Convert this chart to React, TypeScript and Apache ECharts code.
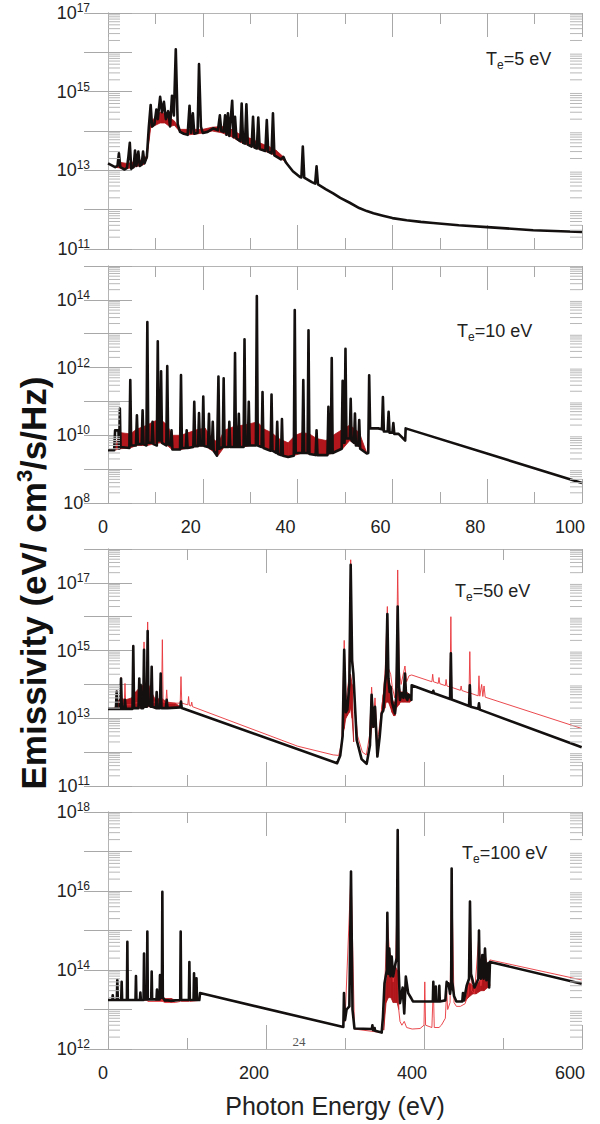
import React, { useEffect, useRef } from 'react';
import * as echarts from 'echarts';

// ---------------- tick labels ----------------
const X_LABELS_LOW = [0, 20, 40, 60, 80, 100];
const X_LABELS_HIGH = [0, 200, 400, 600];
const P1_Y_RANGE = [11, 17];
const P1_Y_LABELS = [11, 13, 15, 17];
const P2_Y_RANGE = [8, 15];
const P2_Y_LABELS = [8, 10, 12, 14];
const P3_Y_RANGE = [11, 18];
const P3_Y_LABELS = [11, 13, 15, 17];
const P4_Y_RANGE = [12, 18];
const P4_Y_LABELS = [12, 14, 16, 18];
const MINOR_MULTIPLIERS = [2, 3, 4, 5, 6, 7, 8, 9];
const PANEL_TEMPS = ['5 eV', '10 eV', '50 eV', '100 eV'];

// ---------------- Te = 5 eV ----------------
const P1_BLACK: [number, number][] = [
  [0, 1.5e13], [1.5, 1.2e13], [2.0, 1.3e13], [2.3, 2.7e13], [2.6, 1.2e13], [3.5, 1.05e13], [4.0, 1.15e13],
  [4.3, 2.2e13], [4.6, 5e13], [4.9, 1.1e13], [5.4, 1.2e13], [5.7, 3.2e13], [6.0, 1.3e13], [6.4, 3e13],
  [6.7, 1.3e13], [7.1, 1.4e13], [7.4, 3e13], [7.7, 1.5e13], [8.2, 2.2e13], [8.6, 1.2e14], [9.0, 4.6e14],
  [9.3, 1.3e14], [9.8, 1.5e14], [10.2, 3.5e14], [10.5, 2e14], [11.0, 7.4e14], [11.4, 3e14], [11.8, 5.5e14],
  [12.2, 2e14], [12.7, 3.2e14], [13.1, 1.3e14], [13.5, 7.9e14], [13.9, 2.5e14], [14.3, 1.2e16], [14.7, 1.5e14],
  [15.2, 9.5e13], [16.0, 8.5e13], [16.8, 8e13], [17.2, 4.4e14], [17.5, 9e13], [17.9, 2.8e14], [18.2, 8.5e13],
  [18.9, 9e13], [19.2, 5e15], [19.6, 1.3e14], [20.0, 8.9e13], [21.0, 9.5e13], [22.2, 1.17e14], [23.2, 1.05e14],
  [23.6, 2.5e14], [23.9, 1e14], [24.4, 9.5e13], [24.7, 2.5e14], [25.0, 8e13], [25.3, 2.8e14], [25.6, 7.5e13],
  [26.2, 5.9e14], [26.5, 7e13], [26.8, 2.3e14], [27.1, 6.5e13], [27.9, 5.5e13], [28.2, 5e14], [28.5, 5e13],
  [28.9, 4.8e13], [29.2, 4.8e14], [29.5, 4.5e13], [30.3, 4e13], [30.6, 2.3e14], [30.9, 3.8e13], [31.4, 3.6e13],
  [31.7, 2.2e14], [32.0, 3.5e13], [33.2, 3.1e13], [33.5, 1.9e14], [33.8, 3e13], [34.5, 2.7e13], [34.8, 2.8e14],
  [35.1, 2.4e13], [36.5, 1.9e13], [37.0, 2.2e13], [37.5, 1.6e13], [39, 9.5e12], [40.5, 6.8e12], [40.8, 6.6e12],
  [41.1, 4e13], [41.4, 6.5e12], [43, 5e12], [43.7, 4.6e12], [44, 1.26e13], [44.3, 4.4e12], [46, 3.3e12],
  [47.5, 2.6e12], [49, 2e12], [51, 1.5e12], [53, 1.1e12], [54.6, 9.2e11], [56, 8.1e11], [58, 7e11], [60, 6.1e11],
  [63, 5.4e11], [66, 4.9e11], [68.6, 4.6e11], [74, 4e11], [80, 3.6e11], [89.7, 3e11], [100, 2.7e11],
];
const P1_BAND: [number, number, number][] = [
  [1.5, 1.2e13, 1.2e13], [2.5, 1.15e13, 1.6e13], [4, 1.1e13, 1.5e13], [6, 1.25e13, 1.7e13], [7.5, 1.4e13, 1.9e13],
  [8.2, 2e13, 2.4e13], [9, 1.2e14, 1.6e14], [10, 1.4e14, 2.3e14], [11, 1.6e14, 3e14], [12, 1.6e14, 2.8e14],
  [13, 1.3e14, 2.2e14], [14, 1.4e14, 1.8e14], [15.2, 9.5e13, 1.1e14], [17, 8e13, 1.1e14], [19, 8.5e13, 1.1e14],
  [20, 8.9e13, 1.1e14], [22, 1.0e14, 1.25e14], [24, 9e13, 1.3e14], [26, 7.2e13, 1.1e14], [28, 5.2e13, 8e13],
  [30, 4.2e13, 6.5e13], [32, 3.4e13, 5e13], [34, 2.8e13, 4e13], [35.5, 2.3e13, 3.2e13], [37, 1.8e13, 2.2e13],
  [38, 1.4e13, 1.4e13],
];

// ---------------- Te = 10 eV ----------------
const P2_BLACK: [number, number][] = [
  [0, 3.6e9], [1.3, 3.6e9], [1.5, 1.4e10], [2.2, 1.4e10], [2.35, 4e9], [2.5, 6.2e10], [2.65, 4.5e9],
  [4.5, 4.2e9], [4.7, 4.3e11], [4.9, 5e9], [5.9, 5e9], [6.1, 3.9e10], [6.3, 5.5e9],
  [7.1, 5.5e9], [7.3, 5.5e10], [7.5, 5.5e9], [8.1, 5e9], [8.3, 2.2e13], [8.5, 6e9],
  [9.2, 6e9], [9.4, 2.5e10], [9.6, 5.5e9], [10.3, 5e9], [10.5, 6e12], [10.7, 7e9],
  [11.0, 7e9], [11.2, 7.8e11], [11.4, 6e9], [12.3, 5e9], [12.5, 1.1e12], [12.7, 5.5e9],
  [13.2, 5e9], [13.4, 1.4e10], [13.6, 3.8e9], [15.2, 3.8e9], [15.4, 6e11], [15.6, 4.2e9],
  [16.4, 4.2e9], [16.6, 1.4e10], [16.8, 4.2e9], [18.0, 4.5e9], [18.2, 9.8e10], [18.4, 4.8e9],
  [19.0, 4.8e9], [19.2, 4.5e10], [19.4, 5e9], [19.9, 5e9], [20.1, 1.4e11], [20.3, 4.8e9],
  [21.1, 4.5e9], [21.3, 4.3e10], [21.5, 4.2e9], [21.9, 4e9], [22.1, 2.5e10], [22.3, 3.5e9],
  [23.0, 2.5e9], [23.3, 5.4e11], [23.5, 4e9], [24.2, 4.5e9], [24.4, 4.8e11], [24.6, 4.5e9],
  [25.4, 4.5e9], [25.6, 2.5e10], [25.8, 4.5e9], [26.6, 4.5e9], [26.8, 2.7e12], [27.0, 4.5e9],
  [27.4, 4.5e9], [27.6, 4.3e10], [27.8, 4.5e9], [28.6, 4.5e9], [28.8, 6.8e12], [29.0, 5e9],
  [29.5, 5e9], [29.7, 9.8e10], [29.9, 5e9], [31.2, 5e9], [31.4, 1.3e14], [31.6, 5e9],
  [32.4, 4.5e9], [32.6, 1.9e11], [32.8, 4.2e9], [34.3, 3.5e9], [34.5, 1.6e11], [34.7, 3.5e9],
  [35.5, 3e9], [35.7, 2.5e10], [35.9, 2.8e9], [36.5, 2.6e9], [36.7, 3e10], [36.9, 2.5e9],
  [38.0, 2.3e9], [39.2, 2.5e9], [39.4, 5e13], [39.6, 3e9], [41.0, 3e9], [41.2, 4.3e11], [41.4, 3e9],
  [42.1, 3e9], [42.3, 1.26e13], [42.5, 2.8e9], [43.8, 2.6e9], [44.0, 1.4e10], [44.2, 2.6e9],
  [46.3, 2.6e9], [46.5, 6.9e10], [46.7, 3e9], [47.0, 3e9], [47.2, 1.9e12], [47.4, 3e9],
  [49.3, 4e9], [49.5, 4.1e11], [49.7, 6e9], [49.9, 6e9], [50.1, 3.6e12], [50.3, 8e9],
  [51.0, 8e9], [51.2, 1.2e11], [51.4, 7e9], [51.9, 6e9], [52.1, 4.4e10], [52.3, 5e9],
  [52.8, 5e9], [53.0, 2.8e10], [53.2, 4e9], [54.6, 2.9e9], [54.9, 3e9], [55.1, 5.9e11], [55.3, 1.6e10],
  [57.0, 1.6e10], [57.8, 1.5e10], [58.0, 1.35e11], [58.2, 1.3e10], [59.0, 1.3e10], [59.2, 4.9e10],
  [59.4, 1.2e10], [60.0, 1.2e10], [60.2, 2.3e10], [60.4, 1.1e10], [61.3, 1.1e10], [62.7, 7e9],
  [62.8, 1.6e10], [100, 3.9e8],
];
const P2_BAND: [number, number, number][] = [
  [1.3, 3.6e9, 3.6e9], [2.5, 4e9, 1.2e10], [4.7, 4.2e9, 1.1e10], [6, 5e9, 1.5e10], [8.3, 5e9, 2e10],
  [9.5, 5.5e9, 2.5e10], [11, 6e9, 3e10], [12.5, 5e9, 2e10], [13.5, 3.8e9, 1e10], [15.4, 3.8e9, 1e10],
  [17, 4.2e9, 1.2e10], [19, 4.8e9, 1.5e10], [20.5, 4.8e9, 1.6e10], [22, 3.5e9, 8e9], [23.3, 2.6e9, 6e9],
  [24.5, 4.5e9, 1.4e10], [26.5, 4.5e9, 1.8e10], [28.5, 4.5e9, 2e10], [30, 5e9, 2.2e10], [31.5, 5e9, 2.5e10],
  [33, 4.2e9, 1.5e10], [34.5, 3.5e9, 1.2e10], [36, 2.8e9, 8e9], [38, 2.3e9, 6e9], [39.5, 2.6e9, 1e10],
  [41, 3e9, 1.2e10], [42.5, 2.8e9, 1.1e10], [44, 2.6e9, 8e9], [46, 2.6e9, 7e9], [47.5, 3e9, 1e10],
  [49.5, 4e9, 1.5e10], [51, 7e9, 2e10], [53, 4.5e9, 1.2e10], [54.6, 2.9e9, 3e9],
];

// ---------------- Te = 50 eV ----------------
const P3_BLACK: [number, number][] = [
  [0, 1.9e13], [10, 1.9e13], [11, 6.2e13], [12, 1.9e13], [15.5, 1.9e13], [16.5, 1.5e14], [17.5, 1.9e13],
  [20.5, 1.9e13], [21.5, 3.5e13], [22.5, 1.9e13], [31, 1.9e13], [32, 1.35e15], [33, 2e13],
  [38.6, 2e13], [39.6, 1.5e14], [40.4, 2.5e13], [41.3, 9.8e13], [42.2, 2e13], [44.6, 2e13], [45.6, 1.05e15],
  [46.6, 2.2e13], [49.2, 2.2e13], [50.2, 3.8e15], [51.2, 2.5e13], [54.3, 2.2e13], [55.3, 3.3e14], [56.3, 2.2e13],
  [60.6, 2e13], [61.6, 6e13], [62.6, 2e13], [65.7, 2e13], [66.7, 2.1e14], [67.7, 2e13], [73.3, 2e13],
  [74.3, 3.5e13], [75.3, 2e13], [91.4, 2.1e13], [92.4, 3.1e13], [93.4, 2e13],
  [290, 4.7e11], [294, 8e11], [297, 3e12], [299, 1.05e15], [301, 1.5e13], [303, 1.8e13], [305.5, 1e14],
  [307.2, 3.4e17], [309, 5e14], [310.6, 2.1e14], [314.8, 2.3e12], [321, 6.2e11], [327.4, 4.5e11],
  [331.6, 1.6e12], [333.7, 4.9e13], [336, 5.6e12], [338, 2.2e13], [341, 7.4e11], [344, 3e12], [346.4, 1.4e13],
  [348.5, 1.7e13], [350.5, 1e14], [352, 2e14], [353.6, 1.2e16], [355, 1.5e14], [356.5, 6e13], [357.8, 8.5e13],
  [359.5, 3e13], [361.5, 2e13], [363.3, 1.4e13], [365, 5e13], [366.7, 2e16], [368.2, 1e14], [369.6, 3.5e13],
  [371.7, 5.5e13], [374, 4e13], [375.9, 2.1e14], [377.5, 4e13], [378.9, 3.5e13], [380.5, 5e13], [382.3, 4.4e13],
  [384, 3.5e13], [384.4, 9.5e13], [411, 5.6e13], [411.8, 6.5e13], [412.6, 5.5e13], [433, 3.7e13], [434, 8.3e14],
  [435, 3.6e13], [457, 2.3e13], [458, 9.5e13], [459, 2.2e13], [468.6, 1.9e13], [469.6, 2.75e13], [470.6, 1.8e13],
  [599.6, 1.4e12],
];
const P3_RED: [number, number][] = [
  [0, 1.9e13], [10, 2e13], [11, 6.5e13], [12, 2.2e13], [15.5, 2.2e13], [16.5, 1.6e14], [17.5, 2.5e13],
  [20.5, 2.5e13], [21.5, 1.07e14], [22.5, 2.5e13], [31, 2.5e13], [32, 1.4e15], [33, 2.8e13], [44.6, 3e13],
  [45.6, 1.8e15], [46.6, 3e13], [49.2, 3e13], [50.2, 7e15], [51.2, 3e13], [54.3, 3e13], [55.3, 3.5e14],
  [56.3, 3e13], [67.8, 3e13], [68.8, 2.1e15], [69.8, 3e13], [73.3, 3e13], [74.3, 6.9e13], [75.3, 2.8e13],
  [91.4, 2.8e13], [92.4, 1.7e14], [93.4, 2.8e13], [101, 2.5e13], [102, 4.4e13], [103, 2.4e13], [105, 2.3e13],
  [106, 3e13], [107, 2.2e13], [240, 1.5e12], [285, 8.3e11], [292, 8e11], [296, 2e12], [299, 2e15], [301, 3e13],
  [305, 1.5e14], [307.2, 4.8e17], [309, 1e15], [312, 3e13], [316, 3e12], [322, 1e12], [327, 8.3e11], [331, 3e12],
  [333.7, 8.3e13], [336, 1e13], [338, 4e13], [341, 2e12], [345, 1e13], [348.5, 5e13], [351, 3e14], [353.6, 2e16],
  [355, 3e14], [357.8, 2e14], [360, 8e13], [363, 4e13], [365, 2e14], [366.7, 2.4e17], [368.5, 3e14], [371, 1e14],
  [375.9, 3.5e14], [378, 1.2e14], [381, 1.8e14], [384.4, 1.9e14], [410, 1.2e14], [411, 2e14], [412, 1.2e14],
  [418, 1.07e14], [419, 1.6e14], [420, 1.05e14], [427, 9.2e13], [428, 1.4e14], [429, 9e13], [433, 8.4e13],
  [434, 1e16], [435, 8.2e13], [446, 6.7e13], [447, 9e13], [448, 6.6e13], [457, 5.6e13], [458, 9.3e14],
  [459, 5.5e13], [468.6, 4.6e13], [469.6, 1.8e14], [470.6, 4.5e13], [473, 1e14], [474.5, 4.4e13], [476, 9e13],
  [477.5, 4.2e13], [599.6, 5e12],
];
const P3_BAND: [number, number, number][] = [
  [8, 1.9e13, 1.9e13], [12, 1.9e13, 3e13], [16, 1.9e13, 4e13], [22, 1.9e13, 3.5e13], [30, 1.9e13, 4e13],
  [35, 2e13, 6e13], [40, 2e13, 8e13], [45, 2.1e13, 1e14], [50, 2.2e13, 1.2e14], [55, 2.2e13, 6e13],
  [60, 2e13, 3.5e13], [67, 2e13, 4e13], [75, 2e13, 3e13], [85, 2.1e13, 2.8e13], [93, 2.1e13, 2.1e13],
  [297, 3e12, 3e12], [299, 5e12, 1e14], [301, 1e13, 3e13], [303, 1.2e13, 3e13], [305.5, 1.5e13, 1e14],
  [307, 2e13, 2e14], [309, 1e13, 1e14], [311, 2e12, 2e12],
  [331.6, 1.6e12, 1.6e12], [333.7, 5e12, 3e13], [336, 6e12, 1.2e13], [338, 1e13, 2e13], [341, 7.4e11, 7.4e11],
  [344, 3e12, 3e12], [346.4, 1.4e13, 2e13], [348.5, 1.7e13, 5e13], [350.5, 2e13, 1e14], [352, 3e13, 2e14],
  [355, 3e13, 1.5e14], [357.8, 2e13, 8.5e13], [359.5, 1.5e13, 4e13], [361.5, 1.2e13, 3e13], [363.3, 1.2e13, 3e13],
  [365, 2e13, 5e13], [368.2, 2.5e13, 1e14], [370, 3e13, 6e13], [374, 3e13, 6e13], [378, 3e13, 6e13],
  [382, 3e13, 5e13], [384.4, 3.5e13, 3.5e13],
];

// ---------------- Te = 100 eV ----------------
const P4_BLACK: [number, number][] = [
  [0, 1.74e13], [5.5, 1.74e13], [6, 2.3e13], [6.5, 1.74e13], [11.2, 1.74e13], [11.8, 5.6e13], [12.4, 1.74e13],
  [16.7, 1.74e13], [17.3, 5e13], [17.9, 1.74e13], [23.9, 1.74e13], [24.5, 5.2e14], [25.1, 1.74e13],
  [34.8, 1.74e13], [35.4, 7e13], [36, 1.74e13], [40.4, 1.74e13], [41, 2.7e13], [41.6, 1.74e13],
  [45, 1.74e13], [45.6, 2.6e14], [46.2, 1.8e13], [49.2, 1.8e13], [49.8, 9.4e14], [50.4, 1.8e13],
  [54.7, 1.8e13], [55.3, 9.1e13], [55.9, 1.8e13], [61.4, 1.8e13], [62, 3.2e13], [62.6, 1.8e13],
  [65.2, 1.8e13], [65.8, 7.4e13], [66.4, 2e13], [68.2, 2e13], [68.8, 9.5e15], [69.4, 2e13],
  [72, 1.7e13], [76, 1.7e13], [80, 1.65e13], [85, 1.7e13], [91.4, 1.74e13], [92, 9.4e14], [92.6, 1.74e13],
  [102.4, 1.74e13], [103, 1.6e14], [103.6, 1.74e13], [108.3, 1.74e13], [108.9, 8.3e13], [109.5, 1.74e13],
  [111.4, 1.74e13], [112, 6.2e13], [112.6, 1.74e13], [115.6, 1.74e13], [116.5, 2.6e13],
  [297.9, 3.6e12], [298.7, 2.6e13], [300, 5.4e12], [302, 1e13], [305.5, 1.2e13], [307.6, 3.1e16],
  [309.5, 1e13], [312, 3.3e12], [334, 3.2e12], [334.7, 4e12], [335.4, 3e12], [337, 3e12], [337.5, 3.4e12],
  [338, 2.9e12], [346.4, 2.6e12], [348, 6.3e12], [350, 4.6e13], [353, 1e14], [353.6, 2.8e15], [354.3, 1e14],
  [355, 8e13], [356.1, 3.5e14], [357.6, 7e13], [359.1, 2.2e14], [361, 6.9e13], [364, 1.5e14], [365.5, 2e14],
  [366.7, 3.5e17], [367.9, 1e14], [369.6, 1.45e13], [373, 3.6e13], [375, 8e12], [377, 6.8e13], [380, 2.6e13],
  [384, 1.9e13], [386, 1.6e13], [411.2, 1.6e13], [411.8, 5e13], [412.4, 1.6e13], [414.4, 1.6e13], [415, 3.8e13],
  [415.6, 1.6e13], [418.8, 1.6e13], [419.4, 4e13], [420, 1.6e13], [427, 1.7e13], [428.7, 5e13], [430, 4e13],
  [431, 4.6e13], [433, 2.5e13], [434.4, 4e13], [435, 3.7e16], [435.8, 5e13], [438, 2.2e13], [441, 1.6e13],
  [448.5, 1.6e13], [449.3, 2.6e13], [450.5, 1.7e13], [454, 4e13], [457, 6e13], [458.2, 5.4e15], [459.5, 8e13],
  [462, 5e13], [464, 3.6e13], [468.8, 6e13], [469.6, 1e15], [470.5, 8e13], [472, 6e13], [473.8, 2.4e14],
  [475.5, 6e13], [477.2, 3.5e14], [479, 5.5e13], [481.4, 1.5e14], [482.5, 3.6e13], [483.5, 1.6e14],
  [599.6, 4.5e13],
];
const P4_RED: [number, number][] = [
  [0, 1.7e13], [23.9, 1.7e13], [24.5, 5e14], [25.1, 1.7e13], [45, 1.7e13], [45.6, 4e13], [46.2, 1.7e13],
  [49.2, 1.7e13], [49.8, 1e14], [50.4, 1.6e13], [68.2, 1.6e13], [68.8, 9e15], [69.4, 1.6e13], [72, 1.5e13],
  [85, 1.5e13], [91.4, 1.6e13], [92, 9e14], [92.6, 1.6e13], [102.4, 1.6e13], [103, 1.5e14], [103.6, 1.6e13],
  [115.6, 1.7e13], [116.5, 2.6e13], [297.9, 3.6e12], [298.7, 2e13], [300, 5e12], [307.6, 3e16], [312, 3.2e12],
  [346.4, 2.6e12], [350, 3e13], [353.6, 2e15], [356.1, 3e14], [359.1, 2e14], [361, 5e13], [364, 1.2e14],
  [366.7, 3e16], [368, 1e13], [369.6, 5e12], [372, 4e12], [375, 5e12], [378, 3.5e12], [385, 3.2e12],
  [395, 3.3e12], [400, 4e12], [401, 5e13], [402, 4e12], [410, 3.5e12], [411.8, 4e13], [413, 3.5e12],
  [419, 3.5e12], [422, 4e12], [427, 6e12], [428.7, 3e13], [430, 1e13], [433, 1.5e13], [435, 3.5e16],
  [438, 1.5e13], [441, 1.2e13], [446, 1.2e13], [452, 1.4e13], [456, 2.5e13], [458.2, 4e15], [460, 3e13],
  [464, 2.5e13], [469.6, 8e14], [472, 4e13], [477.2, 2.5e14], [481.4, 1e14], [483.5, 1.8e14], [599.6, 5.6e13],
];
const P4_BAND: [number, number, number][] = [
  [60, 1.7e13, 1.7e13], [66, 1.7e13, 2.5e13], [72, 1.55e13, 1.9e13], [80, 1.55e13, 1.9e13], [86, 1.7e13, 1.7e13],
  [349, 3e12, 3e12], [352, 1.5e13, 5e13], [355, 2e13, 1e14], [358, 2e13, 1.5e14], [361, 1.5e13, 6e13],
  [364, 1.5e13, 1.2e14], [366, 1.5e13, 1e14], [368, 1e13, 1e13],
  [452, 1.6e13, 1.6e13], [456, 2e13, 5e13], [462, 2.5e13, 4e13], [466, 2.5e13, 4e13], [472, 3e13, 6e13],
  [476, 3e13, 8e13], [480, 3.5e13, 1e14], [483.5, 4e13, 4e13],
];

// ---------------- layout / style ----------------
const FONT = '"Liberation Sans", Arial, Helvetica, sans-serif';
const AXIS_COLOR = '#b4b4b4';
const TICK_COLOR = '#a8a8a8';
const MINOR_COLOR = '#b8b8b8';
const BLACK = '#141010';
const RED = '#e8353b';
const BAND = '#b0161b';

const PANELS = [
  { top: 13, height: 236, xLabels: X_LABELS_LOW, showX: false, yRange: P1_Y_RANGE, yLabels: P1_Y_LABELS,
    black: P1_BLACK, red: null as any, band: P1_BAND, temp: PANEL_TEMPS[0], tx: 486, ty: 62 },
  { top: 266, height: 237, xLabels: X_LABELS_LOW, showX: true, yRange: P2_Y_RANGE, yLabels: P2_Y_LABELS,
    black: P2_BLACK, red: null as any, band: P2_BAND, temp: PANEL_TEMPS[1], tx: 457, ty: 334 },
  { top: 549, height: 237, xLabels: X_LABELS_HIGH, showX: false, yRange: P3_Y_RANGE, yLabels: P3_Y_LABELS,
    black: P3_BLACK, red: P3_RED, band: P3_BAND, temp: PANEL_TEMPS[2], tx: 455, ty: 594 },
  { top: 812, height: 237, xLabels: X_LABELS_HIGH, showX: true, yRange: P4_Y_RANGE, yLabels: P4_Y_LABELS,
    black: P4_BLACK, red: P4_RED, band: P4_BAND, temp: PANEL_TEMPS[3], tx: 462, ty: 856 },
];

function buildOption() {
  const grid: any[] = [];
  const xAxis: any[] = [];
  const yAxis: any[] = [];
  const series: any[] = [];
  const graphic: any[] = [];

  PANELS.forEach((p, i) => {
    grid.push({ left: 108, right: 18, top: p.top, height: p.height });
    const xMin = p.xLabels[0];
    const xMax = p.xLabels[p.xLabels.length - 1];
    const step = p.xLabels[1] - p.xLabels[0];
    const xCommon = {
      type: 'value', gridIndex: i, min: xMin, max: xMax, interval: step,
      axisLine: { show: true, onZero: false, lineStyle: { color: AXIS_COLOR, width: 1 } },
      axisTick: { show: true, inside: true, length: 24, lineStyle: { color: TICK_COLOR } },
      minorTick: { show: true, splitNumber: 2, length: 11, lineStyle: { color: TICK_COLOR } },
      splitLine: { show: false },
      minorSplitLine: { show: false },
    };
    xAxis.push({
      ...xCommon, position: 'bottom',
      axisLabel: {
        show: p.showX, margin: 15,
        formatter: (v: number) => {
          if (!p.xLabels.includes(v)) return '';
          return v === 0 ? `{z|${v}}` : `{n|${v}}`;
        },
        rich: {
          z: { fontSize: 18, color: '#222', fontFamily: FONT, padding: [0, 10, 0, 0] },
          n: { fontSize: 18, color: '#222', fontFamily: FONT, padding: [0, 24, 0, 0] },
        },
      },
    });
    xAxis.push({ ...xCommon, position: 'top', axisLabel: { show: false } });

    const yCommon = {
      type: 'log', logBase: 10, gridIndex: i,
      min: Math.pow(10, p.yRange[0]), max: Math.pow(10, p.yRange[1]),
      axisLine: { show: true, lineStyle: { color: AXIS_COLOR, width: 1 } },
      axisTick: { show: true, inside: true, length: 24, lineStyle: { color: TICK_COLOR } },
      splitLine: { show: false },
    };
    yAxis.push({
      ...yCommon, position: 'left',
      axisLabel: {
        show: true, margin: 18, align: 'right',
        formatter: (v: number) => {
          const e = Math.round(Math.log10(v));
          return p.yLabels.includes(e) ? `{b|10}{s|${e}}` : '';
        },
        rich: {
          b: { fontSize: 18, color: '#222', fontFamily: FONT, lineHeight: 22, verticalAlign: 'middle' },
          s: { fontSize: 12, color: '#222', fontFamily: FONT, lineHeight: 22, verticalAlign: 'top' },
        },
      },
    });
    yAxis.push({ ...yCommon, position: 'right', axisLabel: { show: false } });

    const xi = 2 * i;
    const yi = 2 * i;

    // minor log ticks (left and right edges)
    const minors: [number, number][] = [];
    for (let e = p.yRange[0]; e < p.yRange[1]; e++) {
      for (const m of MINOR_MULTIPLIERS) minors.push([xMin, m * Math.pow(10, e)]);
    }
    series.push({
      type: 'custom', xAxisIndex: xi, yAxisIndex: yi, silent: true, z: 5, data: minors,
      renderItem: (params: any, api: any) => {
        const y = api.coord([api.value(0), api.value(1)])[1];
        const cs = params.coordSys;
        return {
          type: 'group',
          children: [
            { type: 'line', shape: { x1: cs.x, y1: y, x2: cs.x + 12, y2: y }, style: { stroke: MINOR_COLOR, lineWidth: 1 } },
            { type: 'line', shape: { x1: cs.x + cs.width - 12, y1: y, x2: cs.x + cs.width, y2: y }, style: { stroke: MINOR_COLOR, lineWidth: 1 } },
          ],
        };
      },
    });

    // dark red filled band
    const rows = p.band;
    series.push({
      type: 'custom', xAxisIndex: xi, yAxisIndex: yi, silent: true, z: 2, data: rows,
      encode: { x: 0, y: [1, 2] },
      renderItem: (params: any, api: any) => {
        const j = params.dataIndex;
        if (j >= rows.length - 1) return null;
        const a = rows[j];
        const b = rows[j + 1];
        if (a[2] <= a[1] && b[2] <= b[1]) return null;
        const pts = [api.coord([a[0], a[1]]), api.coord([b[0], b[1]]), api.coord([b[0], b[2]]), api.coord([a[0], a[2]])];
        return { type: 'polygon', shape: { points: pts }, style: { fill: BAND, stroke: BAND, lineWidth: 0.8 } };
      },
    });

    if (p.red) {
      series.push({
        type: 'line', xAxisIndex: xi, yAxisIndex: yi, data: p.red, symbol: 'none', showSymbol: false,
        silent: true, z: 3, clip: true, lineStyle: { color: RED, width: 1, opacity: 0.9 },
      });
    }
    series.push({
      type: 'line', xAxisIndex: xi, yAxisIndex: yi, data: p.black, symbol: 'none', showSymbol: false,
      silent: true, z: 4, clip: true, lineStyle: { color: BLACK, width: 2.6, join: 'round' },
    });

    graphic.push({
      type: 'text', left: p.tx, top: p.ty - 12, z: 10,
      style: {
        text: `{t|T}{e|e}{t|=${p.temp}}`,
        rich: {
          t: { fontSize: 18, fontFamily: FONT, fill: '#222', lineHeight: 24, verticalAlign: 'middle' },
          e: { fontSize: 12, fontFamily: FONT, fill: '#222', lineHeight: 24, verticalAlign: 'bottom' },
        },
      },
    });
  });

  graphic.push({
    type: 'text', x: 33, y: 583, rotation: Math.PI / 2, z: 10,
    style: {
      text: '{a|Emissivity (eV/ cm}{s|3}{a|/s/Hz)}',
      align: 'center', verticalAlign: 'middle',
      rich: {
        a: { fontSize: 35, fontWeight: 'bold', fontFamily: FONT, fill: '#111', lineHeight: 40, verticalAlign: 'middle' },
        s: { fontSize: 22, fontWeight: 'bold', fontFamily: FONT, fill: '#111', lineHeight: 40, verticalAlign: 'top' },
      },
    },
  });
  graphic.push({
    type: 'text', x: 335, y: 1106, z: 10,
    style: { text: 'Photon Energy (eV)', fontSize: 25, fontFamily: FONT, fill: '#222', align: 'center', verticalAlign: 'middle' },
  });
  graphic.push({
    type: 'text', x: 299, y: 1041, z: 10,
    style: { text: '24', fontSize: 13, fontFamily: '"Liberation Serif", "DejaVu Serif", serif', fill: '#555', align: 'center', verticalAlign: 'middle' },
  });

  return { animation: false, backgroundColor: '#fff', grid, xAxis, yAxis, series, graphic };
}

export default function App() {
  const ref = useRef<HTMLDivElement>(null);
  useEffect(() => {
    document.body.style.margin = '0';
    const chart = echarts.init(ref.current as HTMLDivElement, null, { renderer: 'svg' });
    chart.setOption(buildOption() as any);
    return () => chart.dispose();
  }, []);
  return <div ref={ref} style={{ width: 600, height: 1124 }} />;
}
